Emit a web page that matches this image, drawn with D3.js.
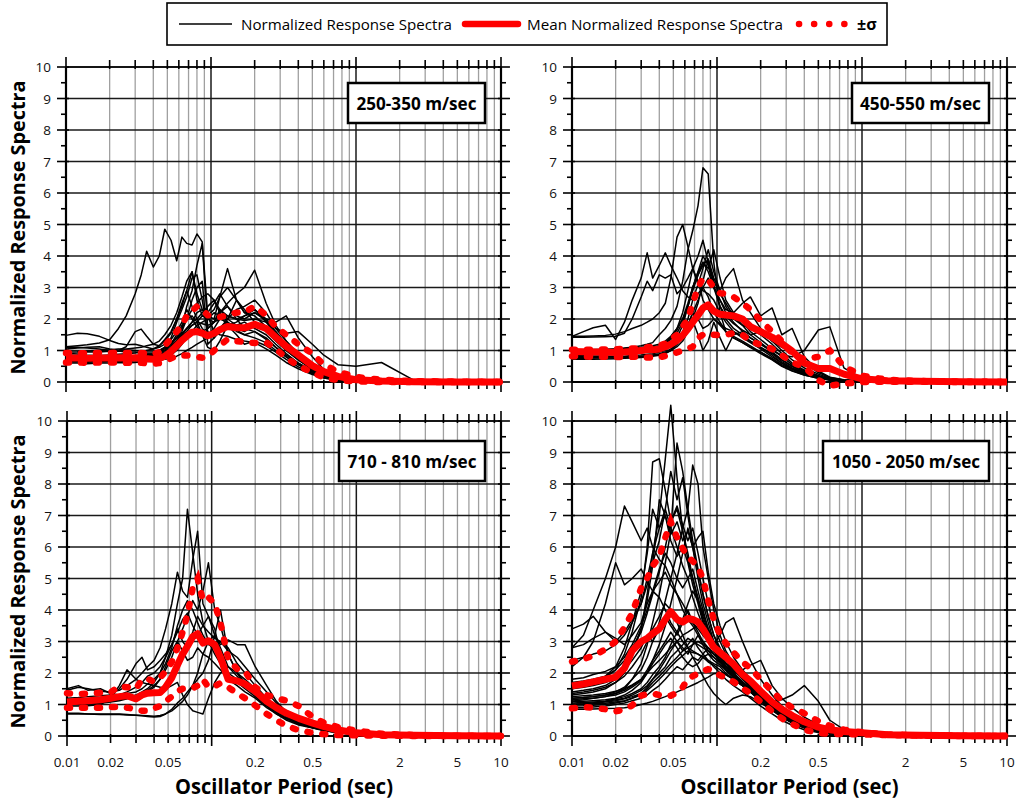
<!DOCTYPE html>
<html>
<head>
<meta charset="utf-8">
<script src="https://cdn.jsdelivr.net/npm/d3@7"></script>
<style>
body { margin: 0; background: #fff; }
svg { display: block; }
text { font-family: "Open Sans", "DejaVu Sans", sans-serif; }
</style>
</head>
<body>
<svg id="chart" width="1020" height="802"></svg>
<script>
// oscillator periods (sec) shared by every spectrum
var periods = [0.01, 0.012, 0.014, 0.017, 0.02, 0.023, 0.026, 0.03, 0.033, 0.036, 0.04, 0.044, 0.048, 0.053, 0.058, 0.063, 0.068, 0.074, 0.08, 0.087,
	0.095, 0.105, 0.115, 0.13, 0.15, 0.17, 0.2, 0.24, 0.28, 0.33, 0.4, 0.5, 0.6, 0.75, 1, 1.5, 2.5, 5, 10];

var xTickLabels = [0.01, 0.02, 0.05, 0.2, 0.5, 2, 5, 10];
var yTicks = [0, 1, 2, 3, 4, 5, 6, 7, 8, 9, 10];
var panelLabels = ["250-350 m/sec", "450-550 m/sec", "710 - 810 m/sec", "1050 - 2050 m/sec"];
var legendLabels = ["Normalized Response Spectra", "Mean Normalized Response Spectra", "\u00b1\u03c3"];

// ---- 250-350 m/sec
var mean250  = [0.76,0.76,0.75,0.76,0.76, 0.77,0.76,0.77,0.76,0.74, 0.72,0.74,0.82,0.97,1.15, 1.32,1.45,1.58,1.6,1.55, 1.47,1.55,1.66,1.76,1.72, 1.72,1.83,1.7,1.42,1.13, 0.86,0.52,0.33,0.18,0.07, 0.03,0.01,0,0];
var plus250  = [0.92,0.92,0.91,0.92,0.92, 0.93,0.92,0.93,0.92,0.9, 0.88,0.95,1.15,1.38,1.6, 1.8,2.1,2.25,2.4,2.3, 2.12,2.08,2.06,2.12,2.2, 2.22,2.4,2.12,1.74,1.5, 1.2,0.9,0.55,0.33,0.16, 0.07,0.03,0.01,0];
var minus250 = [0.62,0.62,0.61,0.62,0.62, 0.62,0.61,0.62,0.61,0.6, 0.58,0.6,0.66,0.75,0.83, 0.84,0.84,0.83,0.8,0.77, 0.82,1.0,1.15,1.36,1.3, 1.27,1.24,1.26,1.05,0.76, 0.52,0.3,0.14,0.06,0.02, 0,0,0,0];
var spectra250 = [
	[1.12,1.15,1.18,1.24,1.34, 1.7,2.1,2.8,3.4,4.15, 3.65,4.0,4.85,4.5,3.85, 4.6,4.4,4.35,4.7,4.45, 2.1,1.6,1.5,1.45,1.35, 1.3,1.25,1.05,0.85,0.62, 0.42,0.24,0.13,0.06,0.03, 0.01,0,0,0],
	[1.48,1.55,1.53,1.45,1.32, 1.22,1.18,1.2,1.15,1.1, 1.05,1.1,1.2,1.35,1.6, 1.9,2.3,2.0,1.75,1.6, 1.7,1.9,2.2,2.4,2.1, 2.0,2.2,1.95,1.55,1.2, 0.8,0.45,0.25,0.12,0.05, 0.02,0.01,0,0],
	[1.05,1.08,1.1,1.12,1.05, 1.0,1.12,1.6,1.68,1.45, 1.2,1.15,1.3,1.55,2.0, 2.5,2.9,2.4,2.0,1.7, 1.5,1.7,2.0,1.9,1.7, 1.6,1.8,1.65,1.3,1.0, 0.7,0.4,0.22,0.1,0.04, 0.01,0,0,0],
	[0.82,0.8,0.78,0.8,0.82, 0.8,0.78,0.8,0.82,0.85, 0.9,1.0,1.1,1.2,1.4, 1.7,2.4,2.9,3.7,4.4, 1.7,1.9,2.3,2.0,1.8, 1.9,1.7,1.5,1.2,0.9, 0.6,0.35,0.2,0.1,0.04, 0.02,0,0,0],
	[0.7,0.72,0.7,0.7,0.72, 0.74,0.72,0.74,0.76,0.78, 0.8,0.85,0.95,1.1,1.3, 1.5,1.7,1.9,2.2,2.3, 2.1,2.0,2.7,3.6,2.6, 2.2,2.1,1.75,1.4,1.1, 0.8,0.5,0.3,0.15,0.06, 0.02,0.01,0,0],
	[0.65,0.66,0.65,0.64,0.66, 0.66,0.68,0.7,0.7,0.72, 0.75,0.8,0.9,1.05,1.25, 1.45,1.6,1.8,1.9,2.1, 2.0,1.9,2.2,2.5,2.8, 3.0,3.55,2.5,1.8,1.3, 0.9,0.55,0.3,0.15,0.06, 0.02,0.01,0,0],
	[0.9,0.92,0.95,0.95,0.98, 1.0,1.02,1.0,0.98,0.95, 0.95,1.0,1.1,1.25,1.4, 1.55,1.7,1.8,1.9,1.85, 1.8,1.9,2.0,2.1,2.0, 1.95,2.0,1.9,1.7,1.55, 1.6,1.2,0.85,0.55,0.5, 0.62,0.06,0.01,0],
	[1.1,1.1,1.08,1.05,1.0, 0.98,0.95,0.95,0.92,0.9, 0.88,0.92,1.0,1.15,1.3, 1.5,1.7,1.9,2.0,2.2, 2.4,2.6,2.3,2.1,2.0, 2.1,2.2,2.0,1.9,2.1, 1.4,0.8,0.4,0.2,0.08, 0.03,0.01,0,0],
	[0.6,0.6,0.58,0.6,0.6, 0.62,0.6,0.62,0.64,0.65, 0.66,0.7,0.8,1.0,1.3, 1.6,2.0,2.6,3.0,3.2, 1.2,1.4,1.7,1.9,1.6, 1.5,1.6,1.4,1.1,0.8, 0.55,0.3,0.15,0.07,0.03, 0.01,0,0,0],
	[0.75,0.75,0.74,0.75,0.76, 0.78,0.76,0.78,0.8,0.82, 0.85,0.95,1.1,1.4,1.9, 2.3,2.7,3.3,3.4,2.6, 1.6,1.4,1.6,2.0,2.6, 2.3,1.9,1.6,1.3,1.0, 0.7,0.4,0.2,0.1,0.04, 0.01,0,0,0],
	[0.68,0.68,0.67,0.68,0.7, 0.72,0.72,0.73,0.72,0.7, 0.68,0.7,0.72,0.76,0.82, 0.9,1.0,1.1,1.2,1.3, 1.4,1.5,1.7,2.0,2.3, 2.4,2.6,2.2,1.7,1.3, 0.85,0.5,0.28,0.13,0.05, 0.02,0,0,0],
	[0.85,0.86,0.85,0.84,0.86, 0.88,0.9,0.92,0.95,1.0, 1.05,1.15,1.35,1.6,2.0, 2.4,2.9,3.5,2.6,2.1, 2.2,2.5,2.8,2.4,2.0, 1.7,1.6,1.35,1.1,0.85, 0.6,0.35,0.18,0.08,0.03, 0.01,0,0,0],
	[0.72,0.72,0.7,0.72,0.74, 0.75,0.74,0.76,0.78,0.8, 0.82,0.88,1.0,1.2,1.5, 1.8,2.0,2.1,1.9,1.5, 1.1,1.0,1.3,1.8,1.5, 1.2,1.3,1.15,0.95,0.72, 0.48,0.27,0.13,0.06,0.02, 0.01,0,0,0],
	[0.8,0.8,0.8,0.8,0.82, 0.83,0.82,0.84,0.86,0.88, 0.9,0.95,1.05,1.2,1.4, 1.7,2.0,2.3,2.5,2.7, 2.8,2.6,2.2,1.9,1.65, 1.5,1.4,1.25,1.0,0.8, 0.55,0.32,0.17,0.08,0.03, 0.01,0,0,0],
	[0.95,0.96,0.98,1.0,1.02, 1.05,1.05,1.08,1.1,1.15, 1.2,1.3,1.5,1.8,2.2, 2.7,3.2,3.5,2.8,2.3, 2.1,2.3,2.7,3.0,2.6, 2.2,2.3,2.0,1.6,1.2, 0.85,0.5,0.26,0.12,0.05, 0.02,0,0,0],
	[0.64,0.64,0.63,0.64,0.65, 0.66,0.66,0.67,0.68,0.68, 0.68,0.7,0.75,0.85,1.0, 1.2,1.4,1.6,1.8,1.9, 2.0,2.2,2.1,1.8,1.9, 2.1,2.3,1.9,1.5,1.15, 0.8,0.45,0.24,0.11,0.04, 0.01,0,0,0]
];

// ---- 450-550 m/sec
var mean450  = [0.97,0.96,0.95,0.95,0.94, 0.95,0.97,1.0,1.02,1.02, 1.05,1.12,1.2,1.32,1.48, 1.68,1.9,2.12,2.35,2.45, 2.25,2.15,2.13,2.1,2.0, 1.76,1.6,1.42,1.22,0.98, 0.6,0.43,0.43,0.25,0.1, 0.04,0.02,0.01,0];
var plus450  = [1.02,1.02,1.03,1.03,1.04, 1.05,1.06,1.08,1.1,1.12, 1.15,1.22,1.35,1.5,1.75, 2.0,2.5,3.0,3.3,3.25, 3.0,2.82,2.8,2.7,2.5, 2.3,1.95,1.6,1.3,0.9, 0.72,0.8,1.0,0.5,0.2, 0.07,0.03,0.01,0];
var minus450 = [0.82,0.81,0.8,0.8,0.79, 0.79,0.8,0.8,0.78,0.77, 0.78,0.83,0.88,0.94,1.0, 1.05,1.12,1.4,1.5,1.55, 1.5,1.48,1.5,1.55,1.5, 1.3,1.18,1.05,0.85,0.62, 0.48,0.06,-0.12,-0.05,0.0, 0.01,0.01,0,0];
var spectra450 = [
	[1.0,1.0,1.0,1.02,1.05, 1.08,1.1,1.15,1.2,1.25, 1.5,1.7,1.95,2.4,3.2, 4.2,4.8,5.6,6.8,6.6, 3.8,2.2,1.6,1.4,1.25, 1.1,0.95,0.75,0.55,0.4, 0.25,0.15,0.08,0.04,0.02, 0.01,0,0,0],
	[1.45,1.45,1.46,1.48,1.52, 1.6,1.7,1.8,1.9,2.0, 2.2,2.5,3.3,4.6,5.0, 4.3,3.6,3.1,2.9,2.8, 2.6,2.2,1.9,1.6,1.4, 1.25,1.05,0.8,0.6,0.42, 0.26,0.14,0.07,0.03,0.01, 0,0,0,0],
	[1.45,1.6,1.72,1.8,1.35, 1.9,2.6,3.3,4.1,3.3, 3.7,4.1,3.7,3.3,2.9, 2.7,2.6,2.8,3.0,2.7, 2.2,1.9,1.6,1.4,1.25, 1.1,0.9,0.7,0.5,0.35, 0.22,0.12,0.06,0.03,0.01, 0,0,0,0],
	[1.42,1.42,1.43,1.44,1.45, 1.55,2.0,2.7,3.2,2.9, 3.4,3.3,3.4,2.8,3.0, 3.3,3.6,3.2,2.6,2.3, 2.0,1.8,1.6,1.45,1.3, 1.15,0.95,0.72,0.52,0.36, 0.22,0.12,0.06,0.03,0.01, 0,0,0,0],
	[0.9,0.9,0.9,0.9,0.92, 0.92,0.94,0.96,1.0,1.05, 1.1,1.2,1.4,1.7,2.2, 2.9,3.6,4.0,4.5,3.8, 3.2,2.8,2.5,2.1,1.8, 1.5,1.25,0.95,0.7,0.5, 0.32,0.18,0.09,0.04,0.02, 0,0,0,0],
	[0.8,0.8,0.8,0.8,0.82, 0.82,0.84,0.86,0.88,0.9, 0.95,1.0,1.15,1.4,1.8, 2.4,3.0,3.5,3.8,3.6, 4.2,3.3,2.6,2.2,1.9, 1.6,1.35,1.05,0.8,0.55, 0.35,0.2,0.1,0.05,0.02, 0,0,0,0],
	[0.95,0.95,0.95,0.96,0.97, 0.98,1.0,1.02,1.05,1.1, 1.15,1.25,1.4,1.65,2.0, 2.5,3.0,3.4,3.7,3.9, 3.3,2.9,3.3,3.6,2.6, 2.2,1.7,1.3,1.0,0.7, 0.45,0.25,0.12,0.06,0.02, 0.01,0,0,0],
	[1.02,1.02,1.03,1.04,1.05, 1.06,1.08,1.1,1.12,1.15, 1.2,1.3,1.45,1.7,2.0, 2.4,2.9,3.4,3.8,3.5, 3.0,2.6,2.3,2.2,2.5, 2.7,2.1,2.35,1.5,1.7, 0.8,0.35,0.15,0.07,0.03, 0.01,0,0,0],
	[0.85,0.85,0.86,0.86,0.87, 0.88,0.9,0.92,0.95,0.98, 1.0,1.05,1.15,1.3,1.5, 1.8,2.2,2.6,3.0,3.3, 3.0,2.6,2.2,1.9,1.6, 1.4,1.2,1.0,0.85,0.8, 1.0,1.65,1.75,0.45,0.1, 0.03,0.01,0,0],
	[0.72,0.72,0.72,0.73,0.74, 0.75,0.76,0.78,0.8,0.82, 0.85,0.9,1.0,1.2,1.5, 1.8,1.95,1.5,1.0,1.3, 1.9,1.4,1.0,1.5,1.6, 1.4,1.2,0.95,0.7,0.5, 0.3,0.17,0.08,0.04,0.01, 0,0,0,0],
	[0.75,0.75,0.76,0.76,0.77, 0.78,0.79,0.8,0.82,0.84, 0.87,0.92,1.0,1.12,1.3, 1.6,2.0,2.5,3.2,3.9, 3.1,2.4,2.0,1.7,1.5, 1.3,1.1,0.85,0.6,0.42, 0.27,0.15,0.08,0.04,0.01, 0,0,0,0],
	[0.92,0.92,0.92,0.93,0.94, 0.95,0.96,0.98,1.0,1.02, 1.05,1.1,1.2,1.35,1.6, 2.0,2.6,3.1,3.6,4.2, 3.5,2.9,2.4,2.0,1.8, 1.7,1.5,1.2,0.9,0.6, 0.38,0.2,0.1,0.05,0.02, 0,0,0,0],
	[0.78,0.78,0.78,0.79,0.8, 0.8,0.81,0.82,0.84,0.86, 0.9,0.95,1.05,1.2,1.45, 1.8,2.2,2.0,1.7,1.8, 2.0,1.85,1.7,1.6,1.45, 1.3,1.1,0.9,0.65,0.45, 0.28,0.15,0.07,0.03,0.01, 0,0,0,0],
	[1.0,1.0,1.0,1.01,1.02, 1.03,1.05,1.06,1.08,1.1, 1.12,1.2,1.35,1.55,1.9, 2.4,3.0,3.5,4.0,3.7, 3.0,2.4,2.1,1.85,1.65, 1.5,1.6,1.3,1.1,0.95, 0.6,0.3,0.14,0.06,0.02, 0.01,0,0,0]
];

// ---- 710-810 m/sec
var mean710  = [1.08,1.1,1.12,1.15,1.2, 1.25,1.28,1.18,1.3,1.36, 1.37,1.38,1.55,1.85,2.25, 2.6,2.85,3.15,3.25,2.95, 3.02,2.9,2.5,1.8,1.75, 1.65,1.42,1.1,0.9,0.72, 0.56,0.41,0.3,0.19,0.1, 0.04,0.02,0.01,0];
var plus710  = [1.36,1.33,1.35,1.37,1.38, 1.58,1.55,1.5,1.8,1.82, 1.72,1.85,2.05,2.35,2.8, 3.3,3.85,4.7,5.0,4.3, 4.4,4.2,3.6,2.46,2.12, 2.05,1.55,1.3,1.2,1.12, 0.95,0.6,0.42,0.28,0.17, 0.07,0.03,0.01,0];
var minus710 = [0.9,0.9,0.9,0.9,0.92, 0.92,0.9,0.85,0.8,0.8, 0.88,0.95,1.1,1.25,1.42, 1.5,1.52,1.52,1.6,1.8, 1.55,1.58,1.68,1.55,1.35, 1.2,0.97,0.7,0.5,0.32, 0.18,0.1,0.06,0.03,0.02, 0.01,0,0,0];
var spectra710 = [
	[1.0,1.02,1.02,1.05,1.1, 1.15,1.2,1.3,1.4,1.5, 1.7,2.0,2.5,3.2,4.2, 5.0,7.2,5.8,4.5,3.6, 3.0,2.6,2.3,1.8,1.6, 1.4,1.2,0.9,0.7,0.55, 0.4,0.28,0.2,0.12,0.06, 0.02,0.01,0,0],
	[1.45,1.55,1.5,1.42,1.4, 1.45,1.6,1.8,2.0,2.2, 2.4,2.8,3.4,4.2,5.2, 4.6,4.4,5.6,6.5,4.2, 3.8,3.2,2.8,2.2,1.9, 1.6,1.3,1.0,0.75,0.55, 0.38,0.26,0.18,0.1,0.05, 0.02,0.01,0,0],
	[1.05,1.05,1.06,1.08,1.1, 1.15,1.2,1.25,1.35,1.45, 1.6,1.8,2.1,2.5,3.0, 3.4,3.8,4.3,4.0,4.6, 5.5,4.0,3.5,2.6,2.0, 1.7,1.4,1.05,0.8,0.6, 0.42,0.3,0.2,0.12,0.06, 0.02,0.01,0,0],
	[0.7,0.7,0.7,0.68,0.68, 0.68,0.67,0.66,0.65,0.64, 0.63,0.65,0.7,0.8,0.95, 1.1,1.3,1.6,2.0,2.6, 3.0,3.2,2.9,3.05,2.9, 2.9,2.2,1.6,1.1,0.75, 0.5,0.35,0.25,0.15,0.07, 0.03,0.01,0,0],
	[1.1,1.12,1.1,1.15,1.3, 1.5,1.8,2.3,2.5,2.1, 2.2,2.4,2.6,2.9,3.3, 3.7,3.9,3.5,3.2,3.5, 3.8,3.4,2.6,2.0,1.8, 1.7,1.5,1.15,0.85,0.65, 0.45,0.32,0.22,0.13,0.06, 0.02,0.01,0,0],
	[0.95,0.95,0.96,1.0,1.2, 1.6,2.1,1.8,1.7,1.65, 1.6,1.55,1.5,1.6,1.7, 1.3,1.0,0.8,0.75,0.7, 1.2,1.7,2.0,2.2,2.0, 1.8,1.5,1.15,0.85,0.65, 0.48,0.34,0.24,0.14,0.06, 0.02,0.01,0,0],
	[0.72,0.72,0.7,0.7,0.7, 0.7,0.68,0.66,0.64,0.62, 0.6,0.62,0.7,0.85,1.05, 1.2,1.4,1.6,1.8,2.0, 2.4,3.2,4.0,2.6,2.0, 1.6,1.35,1.0,0.75,0.55, 0.38,0.26,0.18,0.1,0.05, 0.02,0.01,0,0],
	[1.5,1.6,1.45,1.5,1.35, 1.3,1.4,1.55,1.7,1.9, 2.0,2.2,2.5,2.9,3.4, 3.0,2.8,3.3,3.8,3.5, 3.3,3.1,3.0,2.7,2.5, 2.2,1.8,1.4,1.05,0.75, 0.5,0.34,0.24,0.14,0.06, 0.02,0.01,0,0],
	[1.0,1.0,1.02,1.04,1.08, 1.12,1.18,1.22,1.3,1.4, 1.55,1.8,2.2,2.7,3.0, 2.7,2.4,2.5,2.8,2.6, 2.5,2.3,2.1,1.9,1.7, 1.5,1.25,0.95,0.7,0.5, 0.35,0.25,0.17,0.1,0.05, 0.02,0.01,0,0],
	[1.2,1.22,1.25,1.28,1.3, 1.32,1.35,1.4,1.5,1.65, 1.8,2.0,2.3,2.8,3.5, 4.0,4.3,4.0,3.6,3.2, 2.9,2.8,3.0,2.8,2.3, 2.0,1.6,1.2,0.9,0.62, 0.42,0.3,0.21,0.12,0.05, 0.02,0.01,0,0]
];

// ---- 1050-2050 m/sec
var mean1050  = [1.59,1.65,1.72,1.8,1.87, 2.15,2.7,3.0,3.1,3.25, 3.4,3.7,3.95,3.7,3.62, 3.73,3.7,3.62,3.4,3.12, 2.82,2.65,2.5,2.28,1.95, 1.75,1.42,1.08,0.85,0.65, 0.45,0.28,0.2,0.14,0.1, 0.04,0.02,0.01,0];
var plus1050  = [2.36,2.44,2.55,2.75,3.0, 3.45,3.9,4.7,5.0,5.4, 5.69,6.3,6.8,6.3,5.95, 5.69,5.55,5.35,5.0,4.3, 3.7,3.2,2.95,2.65,2.35, 2.15,1.8,1.42,1.12,0.9, 0.72,0.47,0.32,0.2,0.12, 0.05,0.02,0.01,0];
var minus1050 = [0.88,0.92,0.9,0.85,0.78, 0.85,0.97,1.28,1.33,1.35, 1.3,1.27,1.28,1.38,1.55, 1.82,1.9,1.98,2.05,2.12, 2.08,1.92,1.85,1.72,1.52, 1.35,1.09,0.78,0.56,0.38, 0.2,0.09,0.07,0.06,0.05, 0.03,0.01,0,0];
var spectra1050 = [
	[1.3,1.35,1.4,1.5,1.7, 2.0,2.6,3.4,4.5,5.8, 7.0,8.8,10.5,8.2,6.5, 5.8,5.0,4.4,3.8,3.3, 2.9,2.6,2.3,2.0,1.7, 1.5,1.2,0.9,0.65,0.45, 0.3,0.17,0.1,0.06,0.03, 0.01,0,0,0],
	[1.1,1.15,1.2,1.25,1.35, 1.5,1.8,2.3,2.9,3.6, 4.5,5.5,6.5,9.3,8.4, 7.2,6.2,5.3,4.5,3.8, 3.2,2.8,2.4,2.1,1.8, 1.55,1.25,0.95,0.7,0.5, 0.32,0.18,0.1,0.06,0.03, 0.01,0,0,0],
	[1.6,1.65,1.7,1.85,2.1, 2.6,3.3,4.4,6.0,8.7, 8.8,7.8,6.8,7.2,6.5, 5.6,5.0,4.3,3.7,3.2, 2.8,2.5,2.2,1.9,1.65, 1.45,1.15,0.85,0.62,0.43, 0.28,0.16,0.1,0.06,0.03, 0.01,0,0,0],
	[1.2,1.22,1.25,1.3,1.4, 1.55,1.8,2.1,2.5,3.0, 3.6,4.3,5.0,5.8,6.6, 7.2,8.6,8.0,6.0,5.0, 4.0,3.2,2.7,2.3,2.0, 1.7,1.35,1.0,0.75,0.52, 0.34,0.19,0.11,0.06,0.03, 0.01,0,0,0],
	[2.8,3.2,4.0,5.0,6.0, 7.3,6.8,6.2,6.6,6.0, 5.6,5.4,5.0,4.5,4.0, 3.7,3.5,3.2,3.0,2.8, 2.6,2.4,2.2,2.0,1.7, 1.5,1.2,0.9,0.67,0.47, 0.3,0.17,0.1,0.06,0.03, 0.01,0,0,0],
	[3.4,3.55,3.8,3.3,3.1, 2.9,3.2,3.6,4.2,4.6, 4.4,4.0,3.6,3.3,3.0, 2.8,2.7,2.6,2.5,2.4, 2.3,2.2,2.0,1.8,1.6, 1.4,1.15,0.85,0.62,0.45, 0.3,0.17,0.1,0.06,0.03, 0.01,0,0,0],
	[2.2,2.5,3.0,4.2,5.5, 4.8,5.0,5.3,4.9,4.6, 4.9,5.2,4.8,4.5,4.2, 3.9,3.6,3.4,3.2,3.0, 2.7,2.5,2.3,2.1,1.8, 1.6,1.3,1.0,0.75,0.55, 0.35,0.2,0.12,0.07,0.03, 0.01,0,0,0],
	[1.5,1.6,1.7,1.9,2.2, 2.8,3.6,4.6,5.8,7.2, 6.6,7.0,6.2,5.7,6.0, 5.5,4.8,4.2,3.6,3.1, 2.7,2.4,2.1,1.85,1.6, 1.4,1.1,0.82,0.6,0.42, 0.27,0.15,0.09,0.05,0.02, 0.01,0,0,0],
	[1.4,1.45,1.5,1.6,1.8, 2.2,2.7,3.4,4.3,5.4, 7.5,7.0,6.4,6.8,6.2, 6.5,6.0,5.0,4.2,3.6, 3.0,2.6,2.3,2.0,1.7, 1.5,1.2,0.9,0.65,0.45, 0.3,0.17,0.1,0.06,0.03, 0.01,0,0,0],
	[1.1,1.1,1.12,1.15,1.2, 1.3,1.45,1.7,2.0,2.4, 2.9,3.5,4.2,5.0,5.8, 6.6,6.0,6.3,6.5,5.2, 4.2,3.5,3.0,2.5,2.1, 1.8,1.45,1.1,0.8,0.58, 0.38,0.22,0.13,0.07,0.03, 0.01,0,0,0],
	[0.85,0.85,0.86,0.87,0.88, 0.9,0.93,1.0,1.05,1.1, 1.18,1.25,1.32,1.4,1.48, 1.55,1.62,1.7,1.78,1.87, 1.98,2.0,1.95,1.8,1.6, 1.4,1.15,0.85,0.62,0.42, 0.26,0.14,0.08,0.05,0.02, 0.01,0,0,0],
	[1.0,1.02,1.05,1.08,1.12, 1.18,1.25,1.35,1.5,1.7, 1.9,2.1,2.3,2.5,2.7, 2.8,2.9,3.0,2.9,2.8, 2.6,2.4,2.2,1.95,1.7, 1.45,1.25,1.1,1.15,1.3, 1.6,1.1,0.5,0.2,0.07, 0.02,0.01,0,0],
	[1.25,1.28,1.3,1.35,1.42, 1.5,1.62,1.8,2.0,2.2, 2.4,2.6,2.8,3.0,3.2, 3.3,3.4,3.5,3.3,3.0, 2.9,3.2,3.6,3.75,3.0, 2.4,1.8,1.3,0.95,0.7, 0.45,0.26,0.15,0.08,0.04, 0.01,0,0,0],
	[1.05,1.06,1.08,1.1,1.15, 1.2,1.3,1.45,1.6,1.8, 2.0,2.2,2.5,2.7,2.9, 3.1,3.0,2.9,2.8,2.7, 2.6,2.5,2.4,2.2,2.1, 2.25,2.4,1.6,1.2,0.9, 0.6,0.35,0.2,0.1,0.05, 0.02,0,0,0],
	[1.35,1.4,1.45,1.55,1.7, 1.9,2.2,2.6,3.0,3.4, 3.8,4.2,4.0,3.6,3.2, 2.8,2.5,2.2,1.9,1.6, 1.35,1.15,1.0,1.2,1.3, 1.25,1.05,0.82,0.6,0.42, 0.27,0.15,0.09,0.05,0.02, 0.01,0,0,0],
	[2.8,2.9,3.1,3.3,3.0, 3.3,3.7,4.2,4.8,5.5, 6.2,7.2,6.6,6.0,5.4, 5.0,4.4,3.9,3.5,3.1, 2.8,2.5,2.2,1.95,1.7, 1.5,1.2,0.9,0.66,0.47, 0.3,0.17,0.1,0.06,0.03, 0.01,0,0,0],
	[1.7,1.75,1.8,1.9,2.1, 2.4,2.8,3.3,3.9,4.5, 5.2,6.0,6.8,7.3,6.7, 6.2,6.6,5.8,5.0,4.2, 3.5,3.0,2.6,2.2,1.9, 1.65,1.3,1.0,0.72,0.5, 0.33,0.19,0.11,0.06,0.03, 0.01,0,0,0],
	[0.95,0.96,0.98,1.0,1.05, 1.1,1.2,1.35,1.55,1.8, 2.1,2.4,2.7,3.0,2.8, 2.6,2.9,3.2,2.9,2.6, 2.4,2.25,2.1,1.9,1.65, 1.45,1.2,0.9,0.65,0.45, 0.28,0.16,0.09,0.05,0.02, 0.01,0,0,0],
	[1.15,1.18,1.2,1.25,1.3, 1.4,1.55,1.75,2.0,2.3, 2.6,2.9,3.1,2.8,2.5, 2.3,2.2,2.3,2.5,2.6, 2.5,2.35,2.2,2.05,1.85, 1.6,1.3,1.0,0.75,0.55, 0.36,0.2,0.12,0.06,0.03, 0.01,0,0,0],
	[1.8,1.85,1.95,2.05,2.2, 2.5,2.9,3.5,4.0,4.6, 5.3,5.8,5.5,5.0,4.7, 5.0,5.3,4.6,4.0,3.4, 2.9,2.5,2.2,1.95,1.7, 1.5,1.2,0.9,0.66,0.47, 0.3,0.17,0.1,0.06,0.03, 0.01,0,0,0],
	[1.0,1.0,1.02,1.04,1.08, 1.12,1.2,1.3,1.45,1.6, 1.8,2.0,2.2,2.4,2.55, 2.7,2.65,2.6,2.5,2.35, 2.25,2.1,1.95,1.8,1.6, 1.4,1.15,0.88,0.64,0.44, 0.28,0.16,0.09,0.05,0.02, 0.01,0,0,0],
	[2.4,2.5,2.6,2.7,2.9, 3.2,3.6,4.2,5.0,5.8, 6.6,7.2,8.4,7.5,8.2, 7.0,6.0,5.2,4.5,3.8, 3.2,2.7,2.4,2.1,1.8, 1.55,1.25,0.95,0.7,0.5, 0.32,0.18,0.1,0.06,0.03, 0.01,0,0,0],
	[0.9,0.9,0.92,0.95,1.0, 1.05,1.12,1.2,1.3,1.45, 1.6,1.8,2.0,2.2,2.1, 2.3,2.5,2.4,2.6,2.8, 2.6,2.4,2.1,1.85,1.6, 1.4,1.15,0.85,0.62,0.43, 0.27,0.15,0.09,0.05,0.02, 0.01,0,0,0],
	[1.2,1.22,1.25,1.3,1.35, 1.45,1.6,1.8,2.1,2.4, 2.7,3.0,3.3,3.0,2.7, 2.9,3.1,2.8,2.6,2.4, 2.2,2.0,1.8,1.6,1.4, 1.2,0.95,0.7,0.5,0.34, 0.2,0.11,0.06,0.03,0.01, 0,0,0,0],
	[1.5,1.55,1.6,1.7,1.85, 2.1,2.4,2.8,3.2,3.0, 3.4,3.8,3.5,3.2,3.6, 4.0,3.6,3.3,3.0,2.7, 2.5,2.3,2.1,1.9,1.7, 1.5,1.25,0.95,0.7,0.5, 0.33,0.19,0.11,0.06,0.03, 0.01,0,0,0],
	[1.0,1.02,1.05,1.1,1.18, 1.25,1.35,1.5,1.7,1.95, 2.2,2.5,2.9,3.3,3.7, 4.2,4.6,4.3,3.9,3.4, 3.0,2.7,2.4,2.2,1.95, 1.7,1.4,1.05,0.78,0.55, 0.36,0.2,0.12,0.06,0.03, 0.01,0,0,0]
];

var panelData = [
	{spectra: spectra250, mean: mean250, plus: plus250, minus: minus250},
	{spectra: spectra450, mean: mean450, plus: plus450, minus: minus450},
	{spectra: spectra710, mean: mean710, plus: plus710, minus: minus710},
	{spectra: spectra1050, mean: mean1050, plus: plus1050, minus: minus1050}
];

// layout of the four plot areas (pixels)
var layout = [
	{x: [66, 501], y: [67, 382], box: [348, 83, 137, 40], boxText: 120, yTitle: true, xLabels: false},
	{x: [572, 1007], y: [67, 382], box: [852, 83, 137, 40], boxText: 121, yTitle: false, xLabels: false},
	{x: [67, 501], y: [421, 736], box: [339, 441, 146, 40], boxText: 129, yTitle: true, xLabels: true},
	{x: [572, 1007], y: [421, 736], box: [823, 441, 166, 40], boxText: 148, yTitle: false, xLabels: true}
];

var red = "#ff0000";
var svg = d3.select("#chart");

// minor and decade positions on the period axis
var minorPeriods = [];
var decades = [0.01, 0.1, 1];
decades.forEach(d => {
	for(var k = 2; k <= 9; k++) minorPeriods.push(+(d * k).toPrecision(3));
});
var allXTicks = minorPeriods.concat([0.01, 0.1, 1, 10]);
var halfTicks = d3.range(0.5, 10, 1);

function drawPanel(L, D, i) {
	var x = d3.scaleLog().domain([0.01, 10]).range(L.x);
	var y = d3.scaleLinear().domain([0, 10]).range([L.y[1], L.y[0]]);
	var g = svg.append("g").attr("class", "panel" + i);

	// minor vertical grid
	g.selectAll(".vminor").data(minorPeriods).enter().append("line")
		.attr("x1", d => x(d)).attr("x2", d => x(d))
		.attr("y1", y(0)).attr("y2", y(10))
		.attr("stroke", "#a0a0a0").attr("stroke-width", 1.3);
	// horizontal grid
	g.selectAll(".hgrid").data(yTicks.slice(1)).enter().append("line")
		.attr("x1", L.x[0]).attr("x2", L.x[1])
		.attr("y1", d => y(d)).attr("y2", d => y(d))
		.attr("stroke", "#1a1a1a").attr("stroke-width", 1.4);
	// decade lines
	g.selectAll(".vmajor").data([0.1, 1]).enter().append("line")
		.attr("x1", d => x(d)).attr("x2", d => x(d))
		.attr("y1", y(0)).attr("y2", y(10))
		.attr("stroke", "#1a1a1a").attr("stroke-width", 1.5);

	// x ticks, top and bottom
	[y(0), y(10)].forEach((yy, side) => {
		var dir = side === 0 ? 1 : -1;
		g.selectAll(".xt" + side).data(allXTicks).enter().append("line")
			.attr("x1", d => x(d)).attr("x2", d => x(d))
			.attr("y1", yy - 2 * dir)
			.attr("y2", d => yy + dir * (decades.indexOf(d) >= 0 || d === 10 ? 10 : 7))
			.attr("stroke", "#000").attr("stroke-width", 1.6);
	});
	// y ticks, left and right
	[L.x[0], L.x[1]].forEach((xx, side) => {
		var dir = side === 0 ? -1 : 1;
		g.selectAll(".ymaj" + side).data(yTicks).enter().append("line")
			.attr("x1", xx - 3 * dir).attr("x2", xx + 9 * dir)
			.attr("y1", d => y(d)).attr("y2", d => y(d))
			.attr("stroke", "#000").attr("stroke-width", 1.6);
		g.selectAll(".ymin" + side).data(halfTicks).enter().append("line")
			.attr("x1", xx).attr("x2", xx + 5 * dir)
			.attr("y1", d => y(d)).attr("y2", d => y(d))
			.attr("stroke", "#000").attr("stroke-width", 1.6);
	});

	// frame
	g.append("line").attr("x1", L.x[0]).attr("x2", L.x[1]).attr("y1", y(10)).attr("y2", y(10))
		.attr("stroke", "#000").attr("stroke-width", 1.6);
	g.append("line").attr("x1", L.x[0]).attr("x2", L.x[1]).attr("y1", y(0)).attr("y2", y(0))
		.attr("stroke", "#000").attr("stroke-width", 2.2);
	g.append("line").attr("x1", L.x[0]).attr("x2", L.x[0]).attr("y1", y(0)).attr("y2", y(10))
		.attr("stroke", "#000").attr("stroke-width", 2.2);
	g.append("line").attr("x1", L.x[1]).attr("x2", L.x[1]).attr("y1", y(0)).attr("y2", y(10))
		.attr("stroke", "#000").attr("stroke-width", 2.2);

	// y tick labels
	g.selectAll(".ylab").data(yTicks).enter().append("text")
		.attr("x", L.x[0] - 15).attr("y", d => y(d) + 5)
		.attr("text-anchor", "end").attr("font-size", 13.5).attr("fill", "#111")
		.text(d => d);

	if(L.xLabels) {
		g.selectAll(".xlab").data(xTickLabels).enter().append("text")
			.attr("x", d => x(d)).attr("y", y(0) + 31)
			.attr("text-anchor", "middle").attr("font-size", 13.5).attr("fill", "#111")
			.text(d => d);
		g.append("text").attr("x", (L.x[0] + L.x[1]) / 2).attr("y", 794)
			.attr("text-anchor", "middle").attr("font-size", 21).attr("font-weight", "bold")
			.attr("textLength", 218).attr("lengthAdjust", "spacingAndGlyphs")
			.text("Oscillator Period (sec)");
	}
	if(L.yTitle) {
		g.append("text")
			.attr("transform", "translate(25," + ((L.y[0] + L.y[1]) / 2 + 3) + ") rotate(-90)")
			.attr("text-anchor", "middle").attr("font-size", 19).attr("font-weight", "bold")
			.attr("textLength", 294).attr("lengthAdjust", "spacingAndGlyphs")
			.text("Normalized Response Spectra");
	}

	var line = d3.line()
		.defined(d => d != null && !isNaN(d))
		.x((d, j) => x(periods[j]))
		.y(d => y(d));

	g.selectAll(".spec").data(D.spectra).enter().append("path")
		.attr("d", line).attr("fill", "none")
		.attr("stroke", "#000").attr("stroke-width", 1.5).attr("stroke-linejoin", "round");

	g.append("path").datum(D.mean).attr("d", line).attr("fill", "none")
		.attr("stroke", red).attr("stroke-width", 7).attr("stroke-linejoin", "round");
	[D.plus, D.minus].forEach(s => {
		g.append("path").datum(s).attr("d", line).attr("fill", "none")
			.attr("stroke", red).attr("stroke-width", 6.5)
			.attr("stroke-linecap", "round").attr("stroke-dasharray", "3 12");
	});

	// label box
	g.append("rect").attr("x", L.box[0]).attr("y", L.box[1]).attr("width", L.box[2]).attr("height", L.box[3])
		.attr("fill", "#fff").attr("stroke", "#000").attr("stroke-width", 2.5);
	g.append("text").attr("x", L.box[0] + L.box[2] / 2).attr("y", L.box[1] + 27)
		.attr("text-anchor", "middle").attr("font-size", 17).attr("font-weight", "bold")
		.attr("textLength", L.boxText).attr("lengthAdjust", "spacingAndGlyphs")
		.text(panelLabels[i]);
}

layout.forEach((L, i) => drawPanel(L, panelData[i], i));

// legend
var lg = svg.append("g");
lg.append("rect").attr("x", 167).attr("y", 3).attr("width", 720).attr("height", 42)
	.attr("fill", "#fff").attr("stroke", "#000").attr("stroke-width", 1.6);
lg.append("line").attr("x1", 179).attr("x2", 232).attr("y1", 24).attr("y2", 24)
	.attr("stroke", "#000").attr("stroke-width", 1.5);
lg.append("text").attr("x", 241).attr("y", 29.5).attr("font-size", 15)
	.attr("textLength", 211).attr("lengthAdjust", "spacingAndGlyphs").text(legendLabels[0]);
lg.append("line").attr("x1", 465).attr("x2", 518).attr("y1", 24).attr("y2", 24)
	.attr("stroke", red).attr("stroke-width", 6.5).attr("stroke-linecap", "round");
lg.append("text").attr("x", 527).attr("y", 29.5).attr("font-size", 15)
	.attr("textLength", 256).attr("lengthAdjust", "spacingAndGlyphs").text(legendLabels[1]);
lg.append("line").attr("x1", 799).attr("x2", 848).attr("y1", 24).attr("y2", 24)
	.attr("stroke", red).attr("stroke-width", 6.5).attr("stroke-linecap", "round").attr("stroke-dasharray", "0.1 15");
lg.append("text").attr("x", 857).attr("y", 29.5).attr("font-size", 16).attr("font-weight", "bold")
	.text(legendLabels[2]);
</script>
</body>
</html>
